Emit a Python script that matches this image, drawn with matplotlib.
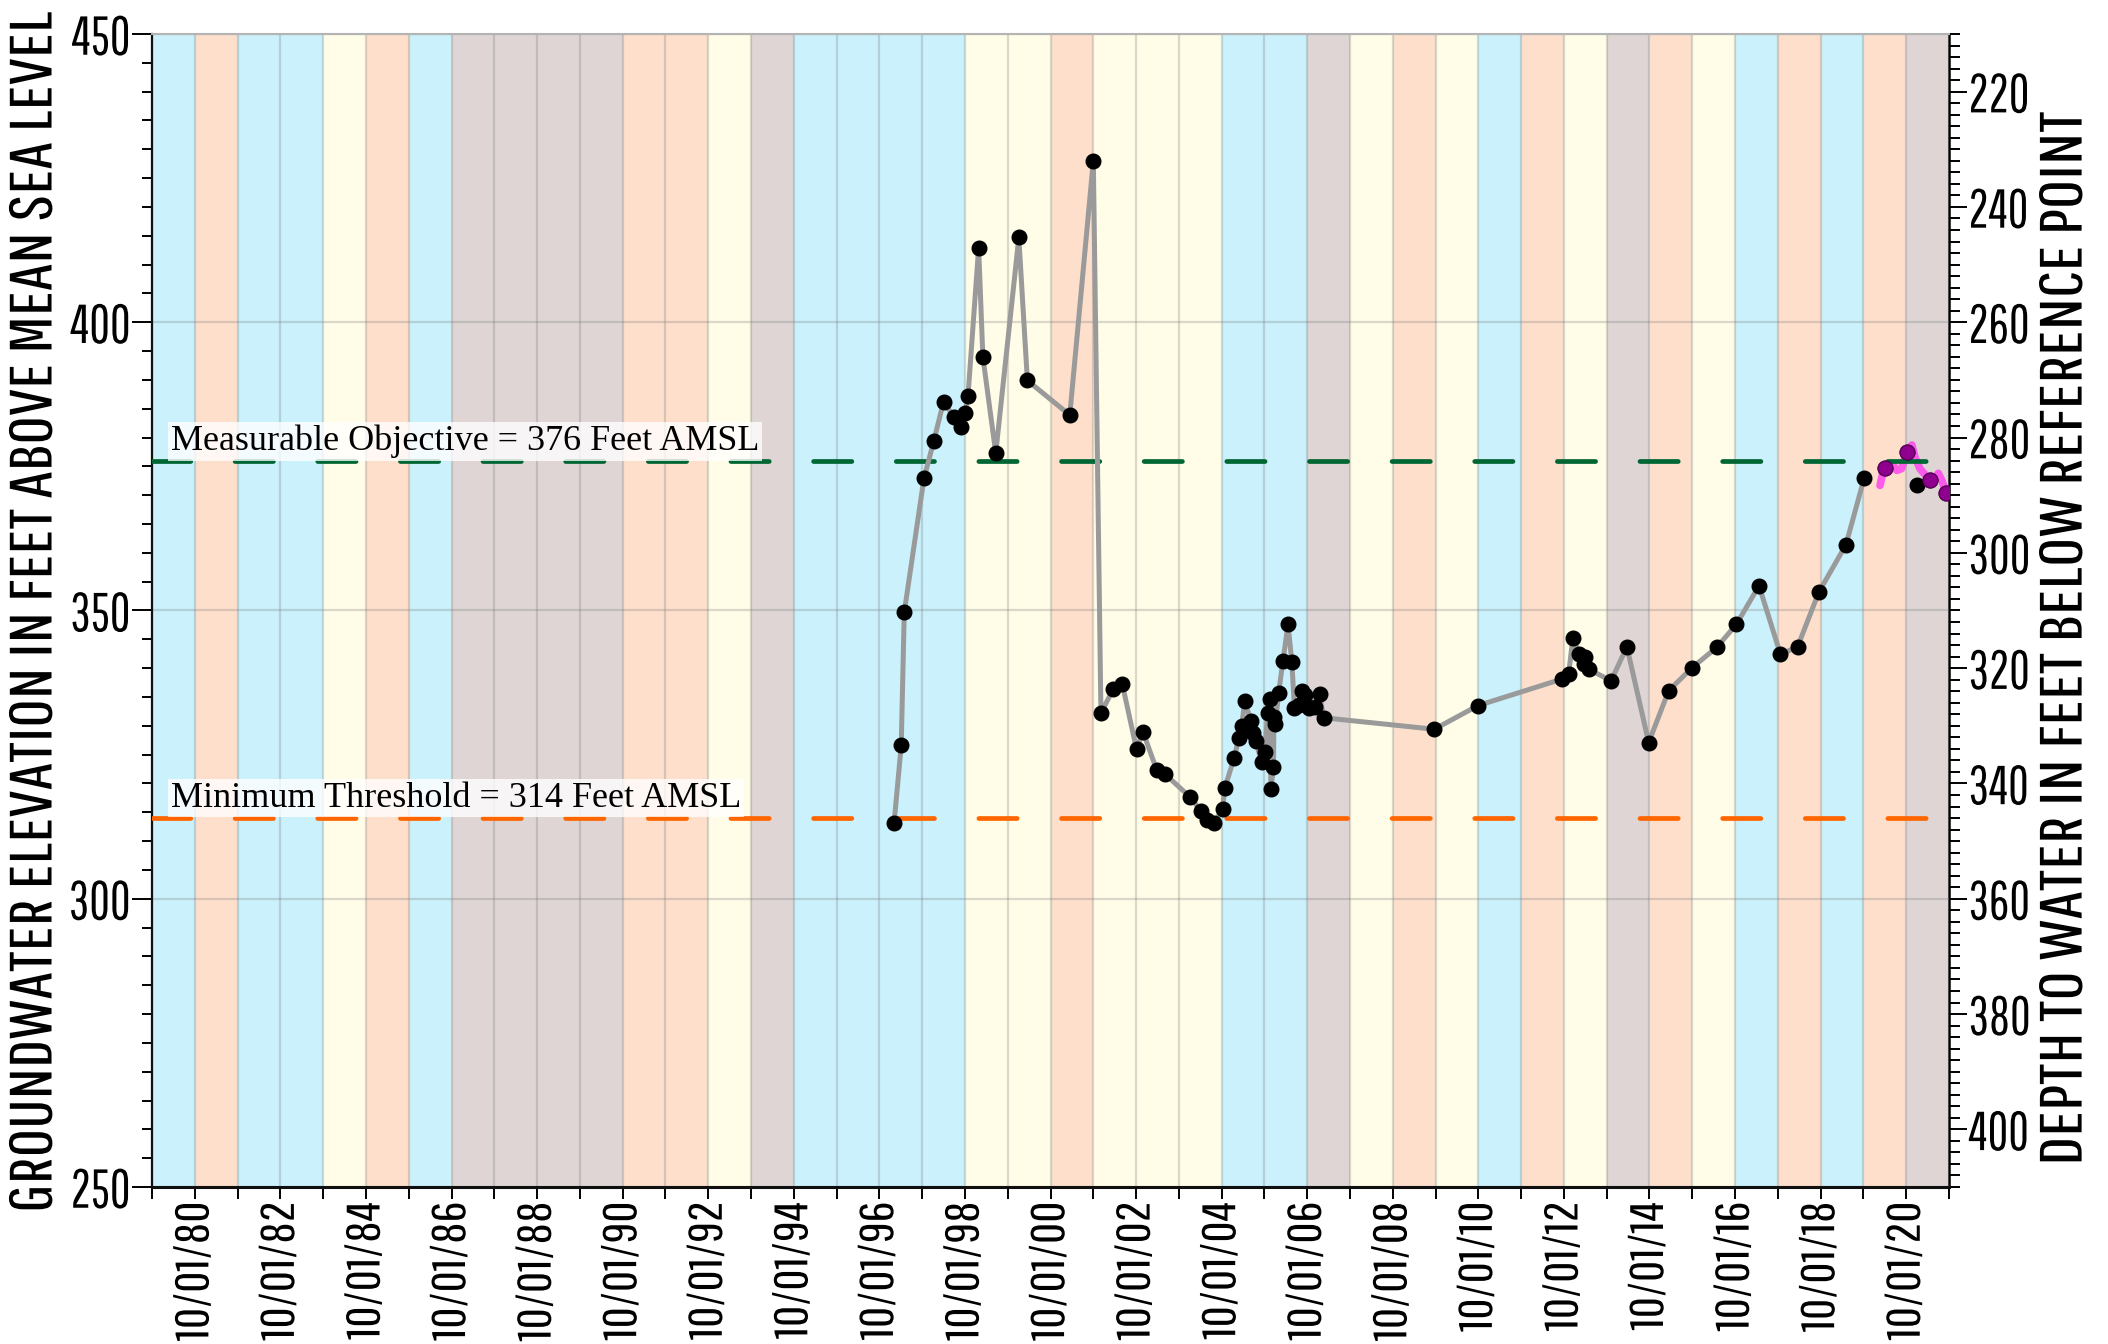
import datetime as dt

import matplotlib
matplotlib.use("Agg")
import matplotlib.pyplot as plt
from matplotlib.ticker import MultipleLocator, FixedLocator, FuncFormatter
import matplotlib.dates as mdates
from matplotlib.patheffects import AbstractPathEffect
from matplotlib.transforms import Affine2D, Bbox
from matplotlib.textpath import TextPath
from matplotlib.font_manager import FontProperties, fontManager

# ---------------------------------------------------------------- data
# Water-year classification, WY1980 .. WY2021 (W=wet, N=normal, D=dry, C=critical)
first_water_year = 1980
water_year_types = [
    "W", "D", "W", "W", "N", "D", "W", "C", "C", "C", "C", "D", "D", "N",
    "C", "W", "W", "W", "W", "N", "N", "D", "N", "N", "N", "W", "W", "C",
    "N", "D", "N", "W", "D", "N", "C", "D", "N", "W", "D", "W", "D", "C",
]

# Manual groundwater elevation measurements (feet AMSL)
level_dates = [
    "1997-02-03", "1997-04-05", "1997-05-01", "1997-10-16", "1998-01-08",
    "1998-04-01", "1998-06-28", "1998-08-29", "1998-10-01", "1998-10-27",
    "1999-01-26", "1999-03-03", "1999-06-21", "2000-01-04", "2000-03-17",
    "2001-03-14", "2001-10-01", "2001-12-05", "2002-03-18", "2002-06-06",
    "2002-10-05", "2002-11-28", "2003-03-25", "2003-06-06", "2004-01-02",
    "2004-04-05", "2004-05-27", "2004-07-31", "2004-10-08", "2004-10-27",
    "2005-01-15", "2005-02-24", "2005-03-21", "2005-04-16", "2005-06-07",
    "2005-06-29", "2005-07-17", "2005-09-06", "2005-10-05", "2005-10-27",
    "2005-11-14", "2005-11-25", "2005-12-17", "2005-12-21", "2006-01-02",
    "2006-01-30", "2006-03-08", "2006-04-20", "2006-05-23", "2006-06-14",
    "2006-07-27", "2006-08-18", "2006-09-16", "2006-10-19", "2006-12-05",
    "2007-01-15", "2007-02-17", "2009-09-20", "2010-09-27", "2012-09-13",
    "2012-11-10", "2012-12-16", "2013-02-10", "2013-03-18", "2013-03-29",
    "2013-05-01", "2013-11-07", "2014-03-22", "2014-09-24", "2015-03-14",
    "2015-10-01", "2016-04-27", "2016-10-12", "2017-04-23", "2017-10-23",
    "2018-03-18", "2018-09-16", "2019-05-05", "2019-10-08",
]
level_values = [
    313.1, 326.6, 349.7, 372.9, 379.4,
    386.2, 383.6, 381.8, 384.2, 387.2,
    412.9, 394.0, 377.3, 414.7, 389.9,
    383.9, 428.0, 332.2, 336.3, 337.2,
    325.9, 329.0, 322.4, 321.6, 317.7,
    315.3, 313.6, 313.2, 315.5, 319.2,
    324.4, 327.9, 330.0, 334.3, 330.8,
    328.8, 327.4, 323.8, 325.5, 332.2,
    334.7, 319.0, 322.9, 331.5, 330.3,
    335.7, 341.3, 347.6, 341.0, 333.0,
    333.6, 336.1, 335.4, 333.0, 333.2,
    335.5, 331.4, 329.4, 333.5, 338.1,
    339.0, 345.3, 342.4, 340.7, 341.9,
    339.8, 337.8, 343.7, 327.1, 336.1,
    340.1, 343.6, 347.6, 354.3, 342.4,
    343.7, 353.2, 361.4, 373.0,
]

# Recent manual measurements
recent_dates = ["2020-04-01", "2020-10-05", "2021-01-01", "2021-04-20", "2021-09-08"]
recent_values = [374.8, 377.5, 371.8, 372.6, 370.3]

# Transducer record
logger_dates = [
    "2020-02-20", "2020-03-14", "2020-04-16", "2020-05-30", "2020-07-13",
    "2020-08-22", "2020-10-05", "2020-11-18", "2020-12-14", "2021-01-26",
    "2021-03-26", "2021-05-19", "2021-07-02", "2021-07-31", "2021-09-09",
]
logger_values = [
    371.7, 373.8, 374.8, 375.5, 374.3,
    374.6, 377.5, 378.7, 376.6, 374.6,
    373.2, 372.6, 373.8, 372.6, 370.3,
]
logger_mark_dates = ["2020-04-01", "2020-10-05", "2021-04-20", "2021-09-08"]
logger_mark_values = [374.8, 377.5, 372.6, 370.3]

measurable_objective = 376
minimum_threshold = 314
reference_point_elev = 660  # depth to water = reference point elevation - groundwater elevation

x_start = "1979-10-01"
x_end = "2021-10-01"
y_range = (250, 450)
elevation_ticks = [250, 300, 350, 400, 450]
depth_ticks = [220, 240, 260, 280, 300, 320, 340, 360, 380, 400]

left_label = "GROUNDWATER ELEVATION IN FEET ABOVE MEAN SEA LEVEL"
right_label = "DEPTH TO WATER IN FEET BELOW REFERENCE POINT"

# ---------------------------------------------------------------- fonts
installed = {f.name for f in fontManager.ttflist}


def first_installed(names):
    for name in names:
        if name in installed:
            return name
    return "DejaVu Sans"


sans_face = first_installed(["Pathway Gothic One", "Sofia Sans Extra Condensed",
                             "Liberation Sans"])
serif = ["Liberation Serif", "DejaVu Serif"]
plt.rcParams["font.family"] = [sans_face, "DejaVu Sans"]

band_colors = {"W": "#CAF1FC", "N": "#FFFDE8", "D": "#FDDFCB", "C": "#DFD5D5"}


class Squeeze(AbstractPathEffect):
    """Draw text narrower or wider along its baseline."""

    def __init__(self, sx, anchor="center"):
        super().__init__()
        self._sx = sx
        self._anchor = anchor

    def draw_path(self, renderer, gc, tpath, affine, rgbFace=None):
        v = tpath.vertices
        if len(v) == 0 or self._anchor == "left":
            x0 = 0.0
        elif self._anchor == "right":
            x0 = v[:, 0].max()
        else:
            x0 = 0.5 * (v[:, 0].min() + v[:, 0].max())
        squeeze = Affine2D().translate(-x0, 0).scale(self._sx, 1.0).translate(x0, 0)
        renderer.draw_path(gc, tpath, squeeze + affine, rgbFace)


def condense(txt, sx, anchor="center"):
    """Render a text with a horizontal scale and report the scaled extent."""
    txt.set_path_effects([Squeeze(sx, anchor)])
    base_extent = txt.get_window_extent

    def extent(renderer=None, dpi=None):
        bb = base_extent(renderer, dpi)
        vertical = abs((txt.get_rotation() % 180) - 90) < 1
        lo, hi = (bb.y0, bb.y1) if vertical else (bb.x0, bb.x1)
        size = (hi - lo) * min(sx, 1.0)
        if anchor == "left":
            start = lo
        elif anchor == "right":
            start = hi - size
        else:
            start = 0.5 * (lo + hi) - 0.5 * size
        if vertical:
            return Bbox([[bb.x0, start], [bb.x1, start + size]])
        return Bbox([[start, bb.y0], [start + size, bb.y1]])

    txt.get_window_extent = extent


DPI = 100
PX_PER_PT = DPI / 72.0
_prop = FontProperties(family=sans_face)
CAP_EM = TextPath((0, 0), "H", size=1, prop=_prop).get_extents().y1


def fit(text, cap_px, len_px, max_px):
    """Font size (pt) and horizontal scale giving a cap height and an ink length."""
    width_em = TextPath((0, 0), text, size=1, prop=_prop).get_extents().width
    size_px = min(cap_px / CAP_EM, max_px / width_em)
    return size_px / PX_PER_PT, len_px / (width_em * size_px)


def to_dates(items):
    return [dt.date.fromisoformat(s) for s in items]


fig = plt.figure(figsize=(21.08, 13.44), dpi=DPI)
ax = fig.add_axes([0.07211, 0.11682, 0.85247, 0.85789])

# water-year background bands
for i, wy_type in enumerate(water_year_types):
    wy = first_water_year + i
    ax.axvspan(dt.date(wy - 1, 10, 1), dt.date(wy, 10, 1),
               color=band_colors[wy_type], lw=0, zorder=0)

ax.set_xlim(dt.date.fromisoformat(x_start), dt.date.fromisoformat(x_end))
ax.set_ylim(*y_range)

ax.grid(True, which="major", color="#7a7a7a", alpha=0.28, lw=1.6)
ax.set_axisbelow(True)

# threshold lines
ax.axhline(measurable_objective, color="#006633", lw=3.4, dashes=(8.1, 9.4),
           dash_capstyle="round", zorder=4)
ax.axhline(minimum_threshold, color="#FF6600", lw=3.4, dashes=(8.1, 9.4),
           dash_capstyle="round", zorder=4)

# transducer record
ax.plot(to_dates(logger_dates), logger_values, color="#FF44EE", lw=5.5,
        alpha=0.85, solid_capstyle="round", solid_joinstyle="round", zorder=3)

# manual measurements
ax.plot(to_dates(level_dates), level_values, color="#9A9A9A", lw=3.6,
        marker="o", ms=10.5, mfc="black", mec="black", zorder=5)
ax.plot(to_dates(recent_dates), recent_values, ls="none",
        marker="o", ms=10.5, mfc="black", mec="black", zorder=5)
ax.plot(to_dates(logger_mark_dates), logger_mark_values, ls="none",
        marker="o", ms=10.5, mfc="#C000C0", mec="#6A006A", mew=1.2,
        alpha=0.75, zorder=6)

# threshold annotations
box = dict(boxstyle="square,pad=0.08", fc="white", ec="none", alpha=0.78)
ax.text(0.0106, measurable_objective + 0.4,
        f"Measurable Objective = {measurable_objective} Feet AMSL",
        transform=ax.get_yaxis_transform(), family=serif, fontsize=26,
        ha="left", va="bottom", bbox=box, zorder=7)
ax.text(0.0106, minimum_threshold + 0.6,
        f"Minimum Threshold = {minimum_threshold} Feet AMSL",
        transform=ax.get_yaxis_transform(), family=serif, fontsize=26,
        ha="left", va="bottom", bbox=box, zorder=7)

# x axis: a tick every water year, labelled every other year
ax.xaxis.set_major_locator(mdates.YearLocator(1, month=10, day=1))


def wy_label(x, pos):
    d = mdates.num2date(x)
    return d.strftime("%m/%d/%y") if d.year % 2 == 0 else ""


ax.xaxis.set_major_formatter(FuncFormatter(wy_label))
xt_size, xt_sx = fit("10/01/80", 32.8, 137, 128)
ax.tick_params(axis="x", which="major", length=8.6, width=1.4, direction="out",
               labelsize=xt_size, labelrotation=90, pad=2)

# left axis
YT_LEN, YT_PAD = 14.4, 1.0
ax.yaxis.set_major_locator(FixedLocator(elevation_ticks))
ax.yaxis.set_minor_locator(MultipleLocator(5))
ax.tick_params(axis="y", which="major", length=YT_LEN, width=1.4, pad=YT_PAD)
ax.tick_params(axis="y", which="minor", length=7.2, width=1.4)
ll_size, ll_sx = fit(left_label, 41.7, 1197, 1190)
ax.set_ylabel(left_label, fontsize=ll_size)
ax.yaxis.label.set_va("center")
ax.yaxis.set_label_coords(-0.0651, 0.4987)

# right axis: depth to water
ST_LEN, ST_PAD = 13.0, 1.0
sec = ax.secondary_yaxis("right",
                         functions=(lambda e: reference_point_elev - e,
                                    lambda d: reference_point_elev - d))
sec.yaxis.set_major_locator(FixedLocator(depth_ticks))
sec.yaxis.set_minor_locator(MultipleLocator(2))
sec.tick_params(which="major", length=ST_LEN, width=1.4, pad=ST_PAD)
sec.tick_params(which="minor", length=8, width=1.4)
rl_size, rl_sx = fit(right_label, 41.7, 1049, 1240)
sec.set_ylabel(right_label, fontsize=rl_size, rotation=90)
sec.yaxis.label.set_va("center")
sec.yaxis.set_label_coords(1.0646, 0.4756, transform=ax.transAxes)

# frame
ax.spines["top"].set_color("#B4B4B4")
ax.spines["top"].set_linewidth(1.5)
ax.spines["left"].set_color("#101010")
ax.spines["left"].set_linewidth(1.6)
ax.spines["bottom"].set_color("#101010")
ax.spines["bottom"].set_linewidth(2.2)
ax.spines["right"].set_visible(False)
sec.spines["right"].set_color("black")
sec.spines["right"].set_linewidth(1.8)

# size the elevation/depth tick numbers to the room beside the axis titles
fig.canvas.draw()
renderer = fig.canvas.get_renderer()
ax_box = ax.get_window_extent(renderer)
left_room = (ax_box.x0 - (YT_LEN + YT_PAD) * PX_PER_PT
             - ax.yaxis.label.get_window_extent(renderer).x1 - 4)
right_room = (sec.yaxis.label.get_window_extent(renderer).x0
              - ax_box.x1 - (ST_LEN + ST_PAD) * PX_PER_PT - 4)
yt_size, yt_sx = fit("450", 44, 56, 0.95 * min(left_room, right_room))
ax.tick_params(axis="y", which="major", labelsize=yt_size)
sec.tick_params(which="major", labelsize=yt_size)
fig.canvas.draw()

condense(ax.yaxis.label, ll_sx)
condense(sec.yaxis.label, rl_sx)
for lbl in ax.get_yticklabels():
    condense(lbl, yt_sx, "right")
for lbl in sec.get_yticklabels():
    condense(lbl, yt_sx, "left")
for lbl in ax.get_xticklabels():
    condense(lbl, xt_sx, "right")

fig.savefig("out.png", dpi=DPI)
